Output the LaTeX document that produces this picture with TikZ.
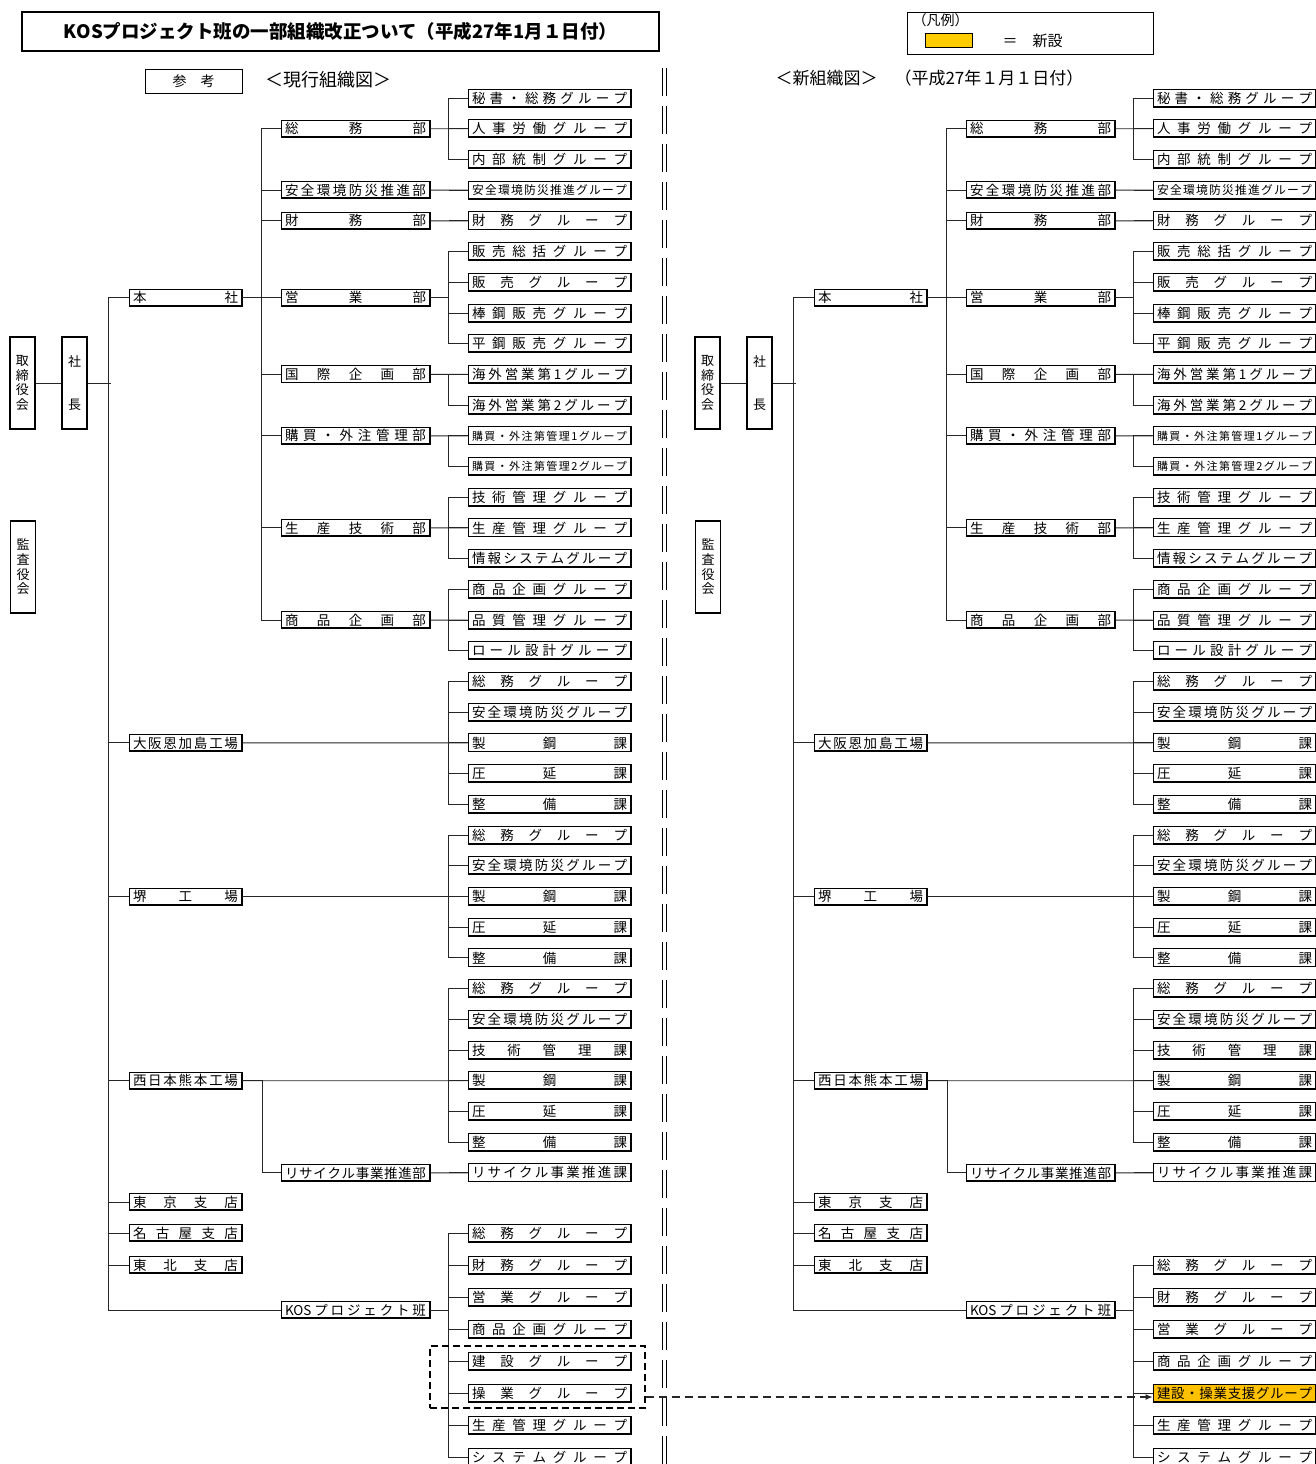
\documentclass[tikz,border=0pt]{standalone}
\usepackage{fontspec}
\setmainfont{Noto Sans CJK JP}
\usetikzlibrary{arrows.meta}
\definecolor{newgrp}{RGB}{255,192,0}
\definecolor{legendyel}{RGB}{255,204,0}
\newcommand\smallgrp{\fontsize{11}{11}\selectfont}
\newcommand\midgrp{\fontsize{11.8}{11.8}\selectfont}

% one half of the chart (everything but the KOS groups)
\newcommand\orgchart[1]{%
  \node[tallbox] (#1-board) at (22.5,383) {取\\締\\役\\会};
  \node[tallbox] (#1-pres) at (74.5,383) {社\\[29pt]長};
  \node[tallbox] (#1-audit) at (23,567) {監\\査\\役\\会};
  % head office and branches
  \node[headbox] (#1-hq) at (185.5,297.6) {本 社};
  \node[headbox] (#1-osaka) at (185.5,742.9) {大 阪 恩 加 島 工 場};
  \node[headbox] (#1-sakai) at (185.5,896.5) {堺 工 場};
  \node[headbox] (#1-nishi) at (185.5,1080.7) {西 日 本 熊 本 工 場};
  \node[headbox] (#1-tokyo) at (185.5,1202) {東 京 支 店};
  \node[headbox] (#1-nagoya) at (185.5,1233) {名 古 屋 支 店};
  \node[headbox] (#1-tohoku) at (185.5,1265) {東 北 支 店};
  % departments
  \node[deptbox] (#1-so) at (355.5,128.7) {総 務 部};
  \node[deptbox] (#1-an) at (355.5,190.1) {安 全 環 境 防 災 推 進 部};
  \node[deptbox] (#1-za) at (355.5,220.8) {財 務 部};
  \node[deptbox] (#1-ei) at (355.5,297.6) {営 業 部};
  \node[deptbox] (#1-ko) at (355.5,374.4) {国 際 企 画 部};
  \node[deptbox] (#1-kb) at (355.5,435.8) {購 買 ・ 外 注 管 理 部};
  \node[deptbox] (#1-se) at (355.5,527.9) {生 産 技 術 部};
  \node[deptbox] (#1-sh) at (355.5,620.1) {商 品 企 画 部};
  \node[deptbox] (#1-rec) at (355.5,1172.9) {リ サ イ ク ル 事 業 推 進 部};
  \node[deptbox] (#1-kos) at (355.5,1310) {KOS プ ロ ジ ェ ク ト 班};
  % groups
  \foreach \txt [count=\i from 0] in {秘 書 ・ 総 務 グ ル ー プ,
      人 事 労 働 グ ル ー プ, 内 部 統 制 グ ル ー プ,
      \midgrp 安 全 環 境 防 災 推 進 グ ル ー プ, 財 務 グ ル ー プ,
      販 売 総 括 グ ル ー プ, 販 売 グ ル ー プ, 棒 鋼 販 売 グ ル ー プ,
      平 鋼 販 売 グ ル ー プ, 海 外 営 業 第 1 グ ル ー プ,
      海 外 営 業 第 2 グ ル ー プ, \smallgrp 購 買 ・ 外 注 第 管 理 1 グ ル ー プ,
      \smallgrp 購 買 ・ 外 注 第 管 理 2 グ ル ー プ, 技 術 管 理 グ ル ー プ,
      生 産 管 理 グ ル ー プ, 情 報 シ ス テ ム グ ル ー プ,
      商 品 企 画 グ ル ー プ, 品 質 管 理 グ ル ー プ, ロ ー ル 設 計 グ ル ー プ,
      総 務 グ ル ー プ, 安 全 環 境 防 災 グ ル ー プ, 製 鋼 課, 圧 延 課, 整 備 課,
      総 務 グ ル ー プ, 安 全 環 境 防 災 グ ル ー プ, 製 鋼 課, 圧 延 課, 整 備 課,
      総 務 グ ル ー プ, 安 全 環 境 防 災 グ ル ー プ, 技 術 管 理 課, 製 鋼 課,
      圧 延 課, 整 備 課, リ サ イ ク ル 事 業 推 進 課}
    \node[grpbox] (#1-g\i) at (549.5,{98+30.71*\i}) {\txt};
  % connectors
  \draw[conn] (#1-board) -- (#1-pres);
  \draw[conn] (#1-pres.east) -- ++(23,0);
  \draw[conn] (#1-hq.west) -- ++(-20,0) |- (#1-kos.west);
  \foreach \n in {osaka,sakai,nishi,tokyo,nagoya,tohoku}
    \draw[conn] (#1-\n.west) -- ++(-20,0);
  \draw[conn] (#1-so.west) -- ++(-19,0) |- (#1-sh.west);
  \foreach \n in {so,an,za,ei,ko,kb,se,sh}
    \draw[conn] (#1-\n.west) -- ++(-19,0);
  \draw[conn] (#1-hq) -- (#1-ei);
  \foreach \n/\g in {so/1,an/3,za/4,ko/9,kb/11,se/14,sh/17}
    \draw[conn] (#1-\n) -- (#1-g\g);
  \draw[conn] (#1-ei.east) -- ++(19,0);
  \foreach \a/\b in {0/2,5/8,9/10,11/12,13/15,16/18,19/23,24/28,29/34}
    \draw[conn] (#1-g\a.west) -- ++(-19,0) |- (#1-g\b.west);
  \foreach \i in {0,...,35}
    \draw[conn] (#1-g\i.west) -- ++(-19,0);
  \draw[conn] (#1-osaka) -- (#1-g21);
  \draw[conn] (#1-sakai) -- (#1-g26);
  \draw[conn] (#1-nishi) -- (#1-g32);
  \draw[conn] (#1-nishi.east) -- ++(20,0) |- (#1-rec.west);
  \draw[conn] (#1-rec) -- (#1-g35);
  \draw[conn] (#1-kos.east) -- ++(19,0);
}

\begin{document}
\begin{tikzpicture}[
    x=1pt, y=-1pt,
    conn/.style={draw=black!85, line width=0.9pt},
    box/.style={draw, line width=0.9pt, inner sep=0pt, minimum height=17pt,
        font=\fontsize{13.5}{13.5}\selectfont,
        path picture={\draw[line width=2.6pt]
            (path picture bounding box.north west) -- (path picture bounding box.south west)
            -- (path picture bounding box.south east) -- (path picture bounding box.north east);}},
    spreadtext/.style={execute at begin node={\hbox to #1\bgroup\spaceskip=0pt plus 1fil\relax\ignorespaces},
        execute at end node={\unskip\egroup}},
    headbox/.style={box, minimum width=113pt, spreadtext=105pt},
    deptbox/.style={box, minimum width=149pt, spreadtext=141pt},
    grpbox/.style={box, minimum width=163pt, minimum height=18pt, spreadtext=155pt},
    tallbox/.style={draw, line width=1.2pt, minimum width=25pt, minimum height=92pt,
        inner sep=0pt, align=center, font=\fontsize{13}{14.7}\selectfont}
]
\useasboundingbox (0,0) rectangle (1315,1464);

% headings
\node[draw, line width=1.4pt, minimum width=637pt, minimum height=39pt,
    font=\bfseries\fontsize{18.5}{18.5}\selectfont] (title) at (340.5,31.5)
    {KOSプロジェクト班の一部組織改正ついて（平成27年1月１日付）};
\node[draw, line width=0.9pt, minimum width=97pt, minimum height=24pt,
    font=\fontsize{14}{14}\selectfont] (refbox) at (193.5,81) {参　考};
\node[anchor=west, font=\fontsize{18}{18}\selectfont] (curlabel) at (262,80) {＜現行組織図＞};
\node[anchor=west, font=\fontsize{17}{17}\selectfont] (newlabel) at (772,78)
    {＜新組織図＞　（平成27年１月１日付）};

% legend
\node[draw, line width=0.9pt, minimum width=246pt, minimum height=42pt] (legend) at (1030,33) {};
\node[anchor=west, font=\fontsize{14}{14}\selectfont] (legtitle) at (909,20) {（凡例）};
\node[draw, fill=legendyel, inner sep=0pt, minimum width=47pt, minimum height=14pt] (legswatch) at (948.5,40) {};
\node[anchor=west, font=\fontsize{15}{15}\selectfont] (legtext) at (999,41) {＝　新設};

% separator
\draw[line width=1.3pt, dash pattern=on 28pt off 10pt] (662.5,68) -- (662.5,1464);
\draw[line width=1.3pt, dash pattern=on 28pt off 10pt] (666.5,68) -- (666.5,1464);

% current chart
\begin{scope}
  \orgchart{L}
  \foreach \txt [count=\k from 0] in {総 務 グ ル ー プ, 財 務 グ ル ー プ,
      営 業 グ ル ー プ, 商 品 企 画 グ ル ー プ, 建 設 グ ル ー プ,
      操 業 グ ル ー プ, 生 産 管 理 グ ル ー プ, シ ス テ ム グ ル ー プ}
    \node[grpbox] (L-k\k) at (549.5,{1233+32*\k}) {\txt};
  \draw[conn] (L-k0.west) -- ++(-19,0) |- (L-k7.west);
  \foreach \k in {0,...,7}
    \draw[conn] (L-k\k.west) -- ++(-19,0);
  \node[draw, dashed, line width=1.2pt, dash pattern=on 7pt off 4pt,
      minimum width=215pt, minimum height=62pt] (L-sel) at (537.5,1377) {};
\end{scope}

% new chart
\begin{scope}[xshift=685pt]
  \orgchart{R}
  \foreach \k/\txt in {1/総 務 グ ル ー プ, 2/財 務 グ ル ー プ,
      3/営 業 グ ル ー プ, 4/商 品 企 画 グ ル ー プ,
      6/生 産 管 理 グ ル ー プ, 7/シ ス テ ム グ ル ー プ}
    \node[grpbox] (R-k\k) at (549.5,{1233+32*\k}) {\txt};
  \node[grpbox, fill=newgrp] (R-k5) at (549.5,1393) {建 設 ・ 操 業 支 援 グ ル ー プ};
  \draw[conn] (R-k1.west) -- ++(-19,0) |- (R-k7.west);
  \foreach \k in {1,...,7}
    \draw[conn] (R-k\k.west) -- ++(-19,0);
\end{scope}

% moved groups
\draw[conn, line width=1.2pt, dash pattern=on 8pt off 5pt, -{Latex[length=7pt,width=6pt]}]
    ([yshift=-20pt]L-sel.east) -- ([yshift=-20pt]L-sel.east -| R-k5.west);
\end{tikzpicture}
\end{document}
